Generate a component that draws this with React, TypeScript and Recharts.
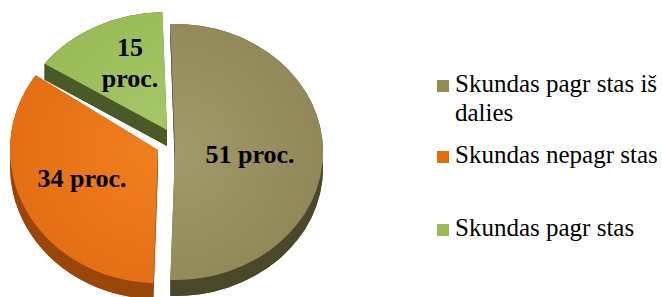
import { PieChart, Pie, Cell, Legend } from "recharts";

const categories = ["Skundas pagr stas iš dalies", "Skundas nepagr stas", "Skundas pagr stas"];
const shares = [51, 34, 15];
const sliceLabels = [["51 proc."], ["34 proc."], ["15", "proc."]];

const topInner = ["#A29A6B", "#F0801F", "#A6C767"];
const topOuter = ["#918859", "#E46E14", "#97BA56"];
const sideColors = ["#4B4729", "#9A4609", "#4A5926"];
const legendColors = ["#948A54", "#E46C0A", "#9BBB59"];

// per-slice explode / tilt tweaks to fake the 3D perspective of the original
const sliceLayout = [
  { dx: 10, dy: 2, sy: 0.865, labelR: 0.507, labelDy: 2 },
  { dx: -7, dy: 0, sy: 0.9, labelR: 0.576, labelDy: -7 },
  { dx: 2, dy: -20, sy: 0.797, labelR: 0.519, labelDy: -14 },
];

const DEPTH = 16;
const RAD = Math.PI / 180;
const data = categories.map((name, i) => ({ name, value: shares[i] }));

function sliceIndex(props: any) {
  const name = props.name ?? props.payload?.name ?? props.payload?.payload?.name;
  const i = categories.indexOf(name);
  return i >= 0 ? i : props.index ?? 0;
}

function Slice3D(props: any) {
  const { cx, cy, outerRadius, startAngle, endAngle } = props;
  const i = sliceIndex(props);
  const lay = sliceLayout[i];
  const ox = cx + lay.dx;
  const oy = cy + lay.dy;
  const rx = outerRadius;
  const ry = outerRadius * lay.sy;
  const pt = (a: number, d = 0) => [ox + rx * Math.cos(a * RAD), oy - ry * Math.sin(a * RAD) + d];
  const large = Math.abs(startAngle - endAngle) > 180 ? 1 : 0;
  const s = pt(startAngle);
  const e = pt(endAngle);
  const sd = pt(startAngle, DEPTH);
  const ed = pt(endAngle, DEPTH);
  const top = `M${ox},${oy} L${s[0]},${s[1]} A${rx},${ry} 0 ${large} 1 ${e[0]},${e[1]} Z`;
  const bottom = `M${ox},${oy + DEPTH} L${sd[0]},${sd[1]} A${rx},${ry} 0 ${large} 1 ${ed[0]},${ed[1]} Z`;
  const band = `M${s[0]},${s[1]} A${rx},${ry} 0 ${large} 1 ${e[0]},${e[1]} L${ed[0]},${ed[1]} A${rx},${ry} 0 ${large} 0 ${sd[0]},${sd[1]} Z`;
  const edge1 = `M${ox},${oy} L${s[0]},${s[1]} L${sd[0]},${sd[1]} L${ox},${oy + DEPTH} Z`;
  const edge2 = `M${ox},${oy} L${e[0]},${e[1]} L${ed[0]},${ed[1]} L${ox},${oy + DEPTH} Z`;
  const gid = `slice-top-${i}`;
  return (
    <g>
      <defs>
        <radialGradient id={gid} cx={ox} cy={oy} r={rx} gradientUnits="userSpaceOnUse">
          <stop offset="0%" stopColor={topInner[i]} />
          <stop offset="100%" stopColor={topOuter[i]} />
        </radialGradient>
      </defs>
      <path d={bottom} fill={sideColors[i]} />
      <path d={band} fill={sideColors[i]} />
      <path d={edge1} fill={sideColors[i]} />
      <path d={edge2} fill={sideColors[i]} />
      <path d={top} fill={`url(#${gid})`} />
    </g>
  );
}

function renderLabel(props: any) {
  const i = sliceIndex(props);
  const lay = sliceLayout[i];
  const a = props.midAngle * RAD;
  const r = props.outerRadius * lay.labelR;
  const x = props.cx + lay.dx + r * Math.cos(a);
  const y = props.cy + lay.dy - r * lay.sy * Math.sin(a) + lay.labelDy;
  const lines = sliceLabels[i];
  const lh = 31;
  return (
    <text
      key={`lbl-${i}`}
      x={x}
      y={y}
      textAnchor="middle"
      dominantBaseline="central"
      fill="#000"
      style={{ fontFamily: "'Liberation Serif', 'Times New Roman', serif", fontSize: 26, fontWeight: 700 }}
    >
      {lines.map((l, j) => (
        <tspan key={j} x={x} dy={j === 0 ? -((lines.length - 1) * lh) / 2 : lh}>
          {l}
        </tspan>
      ))}
    </text>
  );
}

const rowGaps = [0, 13, 44];

function LegendBox(props: any) {
  const items = props.payload && props.payload.length ? props.payload : [];
  const rows = categories.map((name, i) => {
    const p = items.find((it: any) => it.value === name);
    return { name, color: legendColors[i] ?? p?.color };
  });
  return (
    <div style={{ fontFamily: "'Liberation Serif', 'Times New Roman', serif", fontSize: 25, lineHeight: "29px", color: "#000" }}>
      {rows.map((r, i) => (
        <div key={r.name} style={{ display: "flex", alignItems: "flex-start", marginTop: rowGaps[i] }}>
          <span style={{ width: 12, height: 12, background: r.color, marginTop: 11, marginRight: 6, flex: "none" }} />
          <span style={{ width: 210 }}>{r.name}</span>
        </div>
      ))}
    </div>
  );
}

export default function App() {
  return (
    <div style={{ position: "absolute", left: 0, top: 0, width: 662, height: 297, background: "#fff", overflow: "hidden" }}>
      <PieChart width={662} height={297} margin={{ top: 0, right: 0, bottom: 0, left: 0 }}>
        <Pie
          data={data}
          dataKey="value"
          nameKey="name"
          cx={165}
          cy={150}
          innerRadius={0}
          outerRadius={148}
          startAngle={91.8}
          endAngle={-268.2}
          stroke="none"
          isAnimationActive={false}
          shape={Slice3D}
          activeShape={Slice3D}
          inactiveShape={Slice3D}
          label={renderLabel}
          labelLine={false}
        >
          {data.map((d, i) => (
            <Cell key={d.name} fill={legendColors[i]} />
          ))}
        </Pie>
        <Legend
          layout="vertical"
          align="right"
          verticalAlign="top"
          content={LegendBox}
          wrapperStyle={{ left: 437, top: 69, width: 225 }}
        />
      </PieChart>
    </div>
  );
}
